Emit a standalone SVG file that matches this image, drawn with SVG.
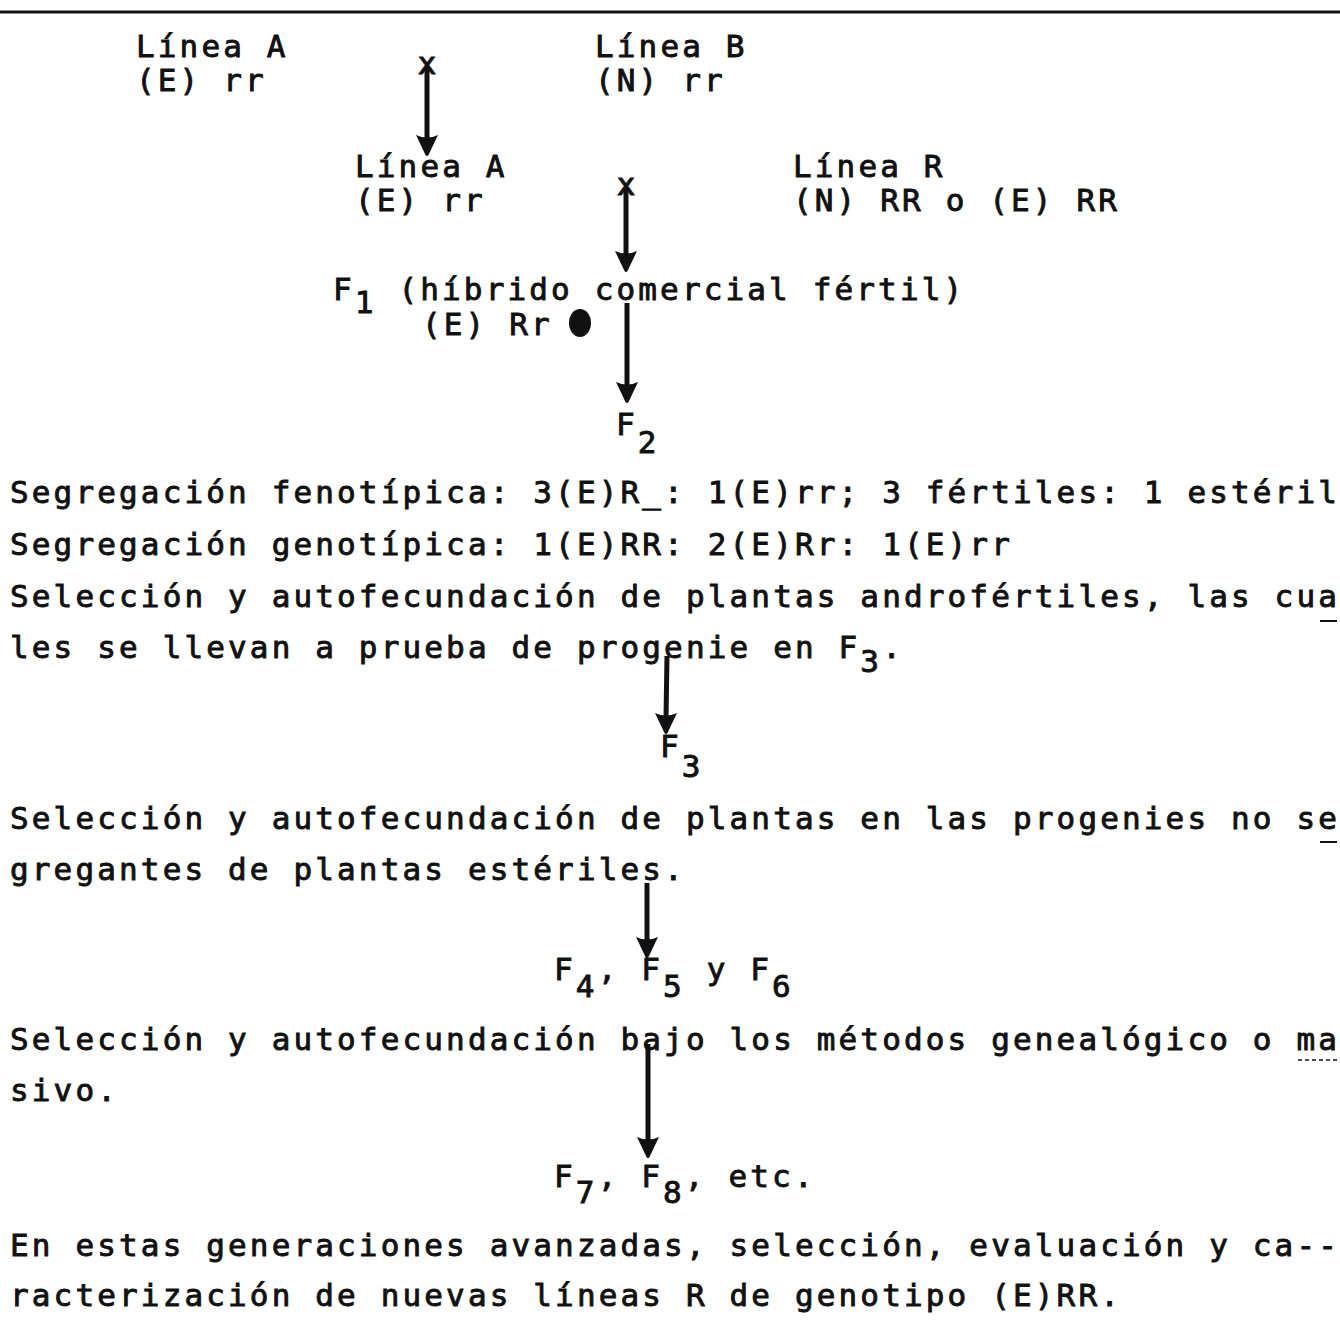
<svg xmlns="http://www.w3.org/2000/svg" width="1340" height="1339" viewBox="0 0 1340 1339">
<defs>
<style>
text{font-family:"DejaVu Sans Mono","Liberation Mono",monospace;font-size:31px;font-weight:normal;letter-spacing:3.14px;fill:#111;stroke:#111;stroke-width:0.9px;}
.ln{stroke:#111;stroke-width:5;fill:none;}
.hd{fill:#111;}
.xm{font-size:30px;letter-spacing:0;stroke-width:1.2px;}
</style>
<path id="head" d="M-11,-21 Q0,-16 11,-21 L1.5,-1 Q0,1 -1.5,-1 Z"/>
</defs>
<rect width="1340" height="1339" fill="#fff"/>
<line x1="0" y1="12" x2="1340" y2="12" stroke="#111" stroke-width="3"/>

<g id="lineaA1"><text x="136" y="57">Línea A<tspan x="136" dy="34">(E) rr</tspan></text></g>
<g id="lineaB"><text x="595" y="57">Línea B<tspan x="595" dy="34">(N) rr</tspan></text></g>
<g id="lineaA2"><text x="355" y="177">Línea A<tspan x="355" dy="34">(E) rr</tspan></text></g>
<g id="lineaR"><text x="793" y="177">Línea R<tspan x="793" dy="34">(N) RR o (E) RR</tspan></text></g>
<g id="f1"><text x="333" y="300">F<tspan dy="13">1</tspan><tspan dy="-13"> (híbrido comercial fértil)</tspan><tspan x="422" dy="35">(E) Rr</tspan></text><ellipse cx="580" cy="323" rx="11" ry="14" fill="#111"/></g>
<g id="f2"><text x="616" y="435">F<tspan dy="18">2</tspan></text></g>
<g id="seg"><text x="10" y="503">Segregación fenotípica: 3(E)R_: 1(E)rr; 3 fértiles: 1 estéril<tspan x="10" dy="52">Segregación genotípica: 1(E)RR: 2(E)Rr: 1(E)rr</tspan><tspan x="10" dy="52">Selección y autofecundación de plantas androfértiles, las cua</tspan><tspan x="10" dy="51">les se llevan a prueba de progenie en F</tspan><tspan dy="14">3</tspan><tspan dy="-14">.</tspan></text>
<line x1="1320" y1="621" x2="1337" y2="621" stroke="#111" stroke-width="2"/></g>
<g id="f3"><text x="660" y="757">F<tspan dy="20">3</tspan></text></g>
<g id="sel3"><text x="10" y="829">Selección y autofecundación de plantas en las progenies no se<tspan x="10" dy="51">gregantes de plantas estériles.</tspan></text>
<line x1="1320" y1="842" x2="1337" y2="842" stroke="#111" stroke-width="2"/></g>
<g id="f456"><text x="554" y="980">F<tspan dy="17">4</tspan><tspan dy="-17">, F</tspan><tspan dy="17">5</tspan><tspan dy="-17"> y F</tspan><tspan dy="17">6</tspan></text></g>
<g id="sel456"><text x="10" y="1050">Selección y autofecundación bajo los métodos genealógico o ma<tspan x="10" dy="51">sivo.</tspan></text>
<line x1="1298" y1="1060" x2="1338" y2="1060" stroke="#111" stroke-width="1.5" stroke-dasharray="4 3"/></g>
<g id="f78"><text x="554" y="1187">F<tspan dy="16">7</tspan><tspan dy="-16">, F</tspan><tspan dy="16">8</tspan><tspan dy="-16">, etc.</tspan></text></g>
<g id="final"><text x="10" y="1256">En estas generaciones avanzadas, selección, evaluación y ca--<tspan x="10" dy="50">racterización de nuevas líneas R de genotipo (E)RR.</tspan></text></g>

<g id="connectors">
<text class="xm" x="418" y="74">x</text>
<line class="ln" x1="427" y1="66" x2="427" y2="140"/>
<use href="#head" x="427" y="156" class="hd"/>
<text class="xm" x="617" y="195">x</text>
<line class="ln" x1="626" y1="188" x2="626" y2="256"/>
<use href="#head" x="626" y="272" class="hd"/>
<line class="ln" x1="627" y1="303" x2="627" y2="388"/>
<use href="#head" x="627" y="403" class="hd"/>
<line class="ln" x1="667" y1="656" x2="666" y2="718"/>
<use href="#head" x="666" y="734" class="hd"/>
<line class="ln" x1="647" y1="883" x2="647" y2="942"/>
<use href="#head" x="647" y="958" class="hd"/>
<line class="ln" x1="648" y1="1044" x2="648" y2="1142"/>
<use href="#head" x="648" y="1158" class="hd"/>
</g>
</svg>
